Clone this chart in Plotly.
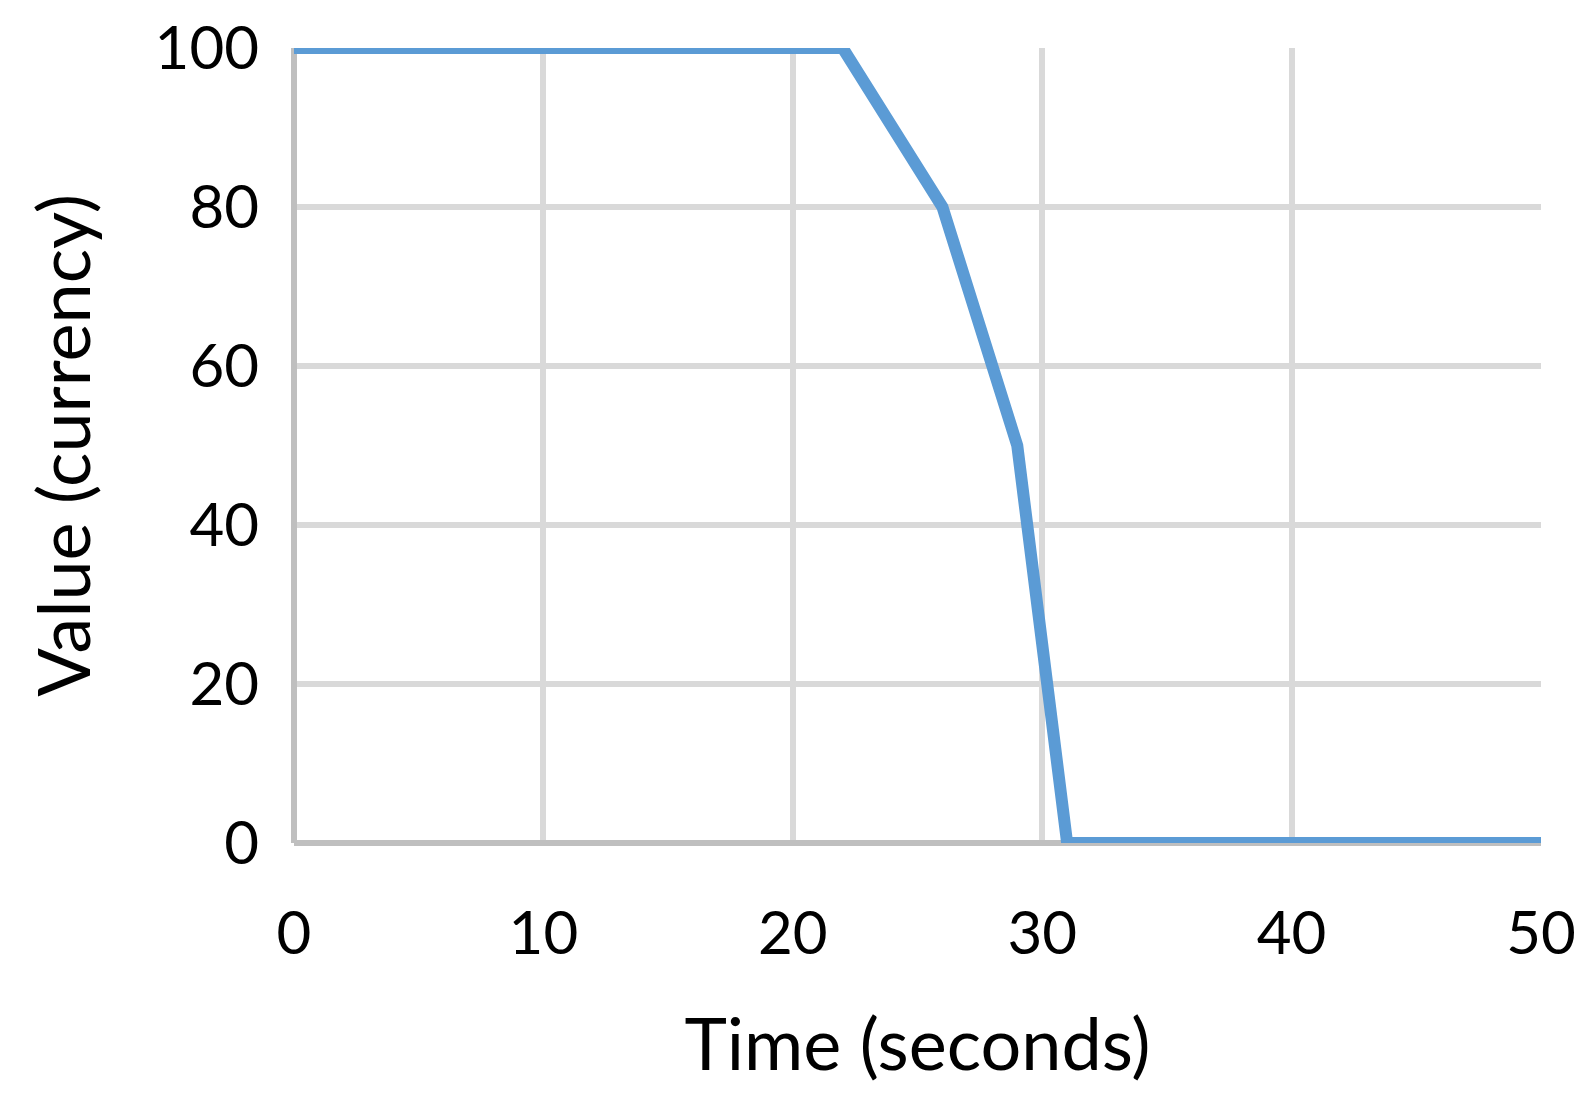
import plotly.graph_objects as go

time_s = [0, 22, 26, 29, 31, 50]
value = [100, 100, 80, 50, 0, 0]
x_ticks = [0, 10, 20, 30, 40, 50]
y_ticks = [0, 20, 40, 60, 80, 100]

font = "Lato, 'Open Sans', sans-serif"

trace = go.Scatter(x=time_s, y=value, mode='lines',
                   line={'color': '#5b9bd5', 'width': 12},
                   cliponaxis=False, showlegend=False)

# page body has an 8px default margin, so the figure is sized to fit inside it
# axis lines are drawn as zerolines so they sit centred on 0 like the original
layout = go.Layout(
    width=1574, height=1085,
    margin={'l': 286, 'r': 41, 't': 40, 'b': 250},
    paper_bgcolor='white', plot_bgcolor='white',
    font={'family': font, 'color': 'black'},
    xaxis={'range': [0, 50], 'tickvals': x_ticks, 'showgrid': True,
           'gridcolor': '#d9d9d9', 'gridwidth': 6, 'zeroline': True,
           'zerolinecolor': '#bfbfbf', 'zerolinewidth': 6, 'showline': False,
           'tickfont': {'size': 60}, 'ticks': '', 'ticklabelstandoff': 50,
           'automargin': False,
           'title': {'text': 'Time (seconds)', 'font': {'size': 72},
                     'standoff': 53}},
    yaxis={'range': [0, 100], 'tickvals': y_ticks, 'showgrid': True,
           'gridcolor': '#d9d9d9', 'gridwidth': 6, 'zeroline': True,
           'zerolinecolor': '#bfbfbf', 'zerolinewidth': 6, 'showline': False,
           'tickfont': {'size': 60}, 'ticks': '', 'ticklabelstandoff': 34,
           'automargin': False,
           'title': {'text': 'Value (currency)', 'font': {'size': 72},
                     'standoff': 40}},
)

fig = go.Figure(data=[trace], layout=layout)
fig.write_html("out.html")
